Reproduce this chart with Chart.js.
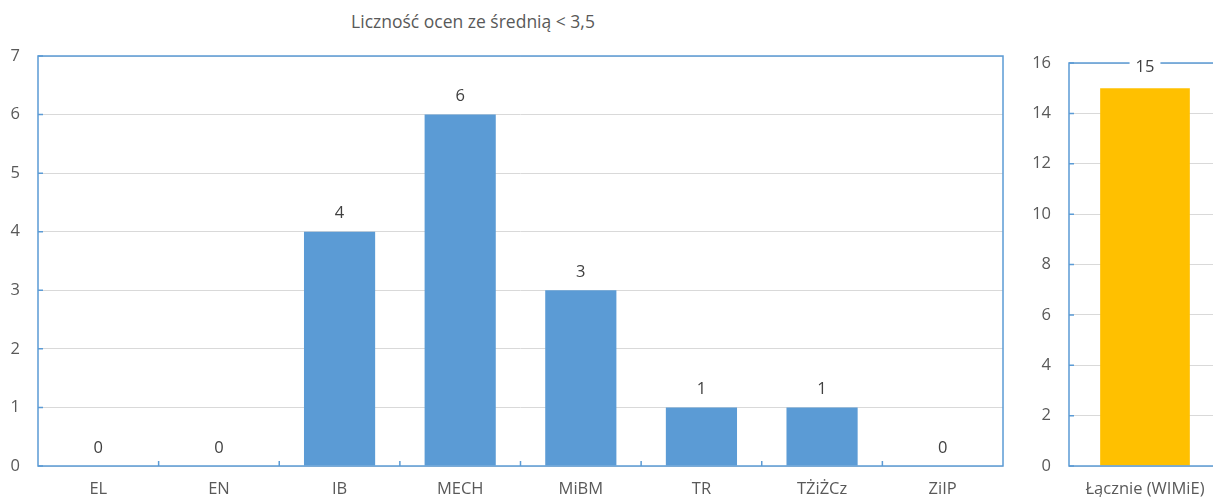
<!DOCTYPE html>
<html>
<head>
<meta charset="utf-8">
<script src="https://cdn.jsdelivr.net/npm/chart.js@4"></script>
<style>
  html, body { margin: 0; padding: 0; background: #fff; overflow: hidden; width: 1213px; height: 497px; }
  #title { position: absolute; top: 9px; left: 273px; width: 400px; text-align: center;
           font: 17.5px "Open Sans", sans-serif; color: #595959; }
  #box1 { position: absolute; left: 0; top: 0; width: 1010px; height: 497px; }
  #box2 { position: absolute; left: 1010px; top: 0; width: 220px; height: 497px; }
</style>
</head>
<body>
<div id="title">Liczność ocen ze średnią &lt; 3,5</div>
<div id="box1"><canvas id="main"></canvas></div>
<div id="box2"><canvas id="total"></canvas></div>
<script>
// data
var categories = ['EL', 'EN', 'IB', 'MECH', 'MiBM', 'TR', 'TŻiŻCz', 'ZiIP'];
var counts = [0, 0, 4, 6, 3, 1, 1, 0];
var mainTicks = [0, 1, 2, 3, 4, 5, 6, 7];

var totalCategories = ['Łącznie (WIMiE)'];
var totalCounts = [15];
var totalTicks = [0, 2, 4, 6, 8, 10, 12, 14, 16];

var textColor = '#595959';
var frameColor = '#5b9bd5';
var fontFamily = '"Open Sans", sans-serif';

// frame round the plot, small ticks, and value labels above the bars
var framePlugin = {
    id: 'frame',
    afterDatasetsDraw: function(chart, args, opts) {
        var ctx = chart.ctx;
        var a = chart.chartArea;
        var x = chart.scales.x, y = chart.scales.y;
        ctx.save();
        ctx.strokeStyle = frameColor;
        ctx.lineWidth = 1.5;
        ctx.strokeRect(a.left, a.top, a.right - a.left, a.bottom - a.top);
        ctx.beginPath();
        y.ticks.forEach(function(t) {
            var py = y.getPixelForValue(t.value);
            ctx.moveTo(a.left, py);
            ctx.lineTo(a.left + 5, py);
        });
        var n = chart.data.labels.length;
        for (var i = 1; i < n; i++) {
            var px = (x.getPixelForValue(i - 1) + x.getPixelForValue(i)) / 2;
            ctx.moveTo(px, a.bottom);
            ctx.lineTo(px, a.bottom - 5);
        }
        ctx.stroke();

        ctx.font = '16.5px ' + fontFamily;
        ctx.textAlign = 'center';
        ctx.textBaseline = 'middle';
        var meta = chart.getDatasetMeta(0);
        meta.data.forEach(function(bar, i) {
            var txt = String(chart.data.datasets[0].data[i]);
            var ty = bar.y - opts.offset;
            if (opts.knockout) {
                var w = ctx.measureText(txt).width + 12;
                ctx.fillStyle = '#fff';
                ctx.fillRect(bar.x - w / 2, ty - 9, w, 18);
            }
            ctx.fillStyle = '#404040';
            ctx.fillText(txt, bar.x, ty);
        });
        ctx.restore();
    }
};

function makeOptions(ticks, yWidth, padding, offset, knockout) {
    return {
        responsive: true,
        maintainAspectRatio: false,
        animation: false,
        layout: { padding: padding },
        plugins: {
            legend: { display: false },
            tooltip: { enabled: false },
            frame: { offset: offset, knockout: knockout }
        },
        scales: {
            x: {
                grid: { display: false, drawTicks: false },
                border: { display: false },
                ticks: { color: textColor, font: { family: fontFamily, size: 16.5 }, padding: 13, maxRotation: 0 },
                afterFit: function(s) { s.height = 31; }
            },
            y: {
                min: ticks[0],
                max: ticks[ticks.length - 1],
                afterBuildTicks: function(s) { s.ticks = ticks.map(function(v) { return { value: v }; }); },
                grid: { color: '#d9d9d9', lineWidth: 1, drawTicks: false },
                border: { display: false },
                ticks: { color: textColor, font: { family: fontFamily, size: 16.5 }, padding: 18 },
                afterFit: function(s) { s.width = yWidth; }
            }
        }
    };
}

new Chart(document.getElementById('main'), {
    type: 'bar',
    data: {
        labels: categories,
        datasets: [{
            data: counts,
            backgroundColor: '#5b9bd5',
            categoryPercentage: 1,
            barPercentage: 0.59
        }]
    },
    options: makeOptions(mainTicks, 38, { top: 56, right: 7, left: 0, bottom: 0 }, 18, false),
    plugins: [framePlugin]
});

new Chart(document.getElementById('total'), {
    type: 'bar',
    data: {
        labels: totalCategories,
        datasets: [{
            data: totalCounts,
            backgroundColor: '#ffc000',
            categoryPercentage: 1,
            barPercentage: 0.59
        }]
    },
    options: makeOptions(totalTicks, 59, { top: 63, right: 9, left: 0, bottom: 0 }, 21, true),
    plugins: [framePlugin]
});
</script>
</body>
</html>
